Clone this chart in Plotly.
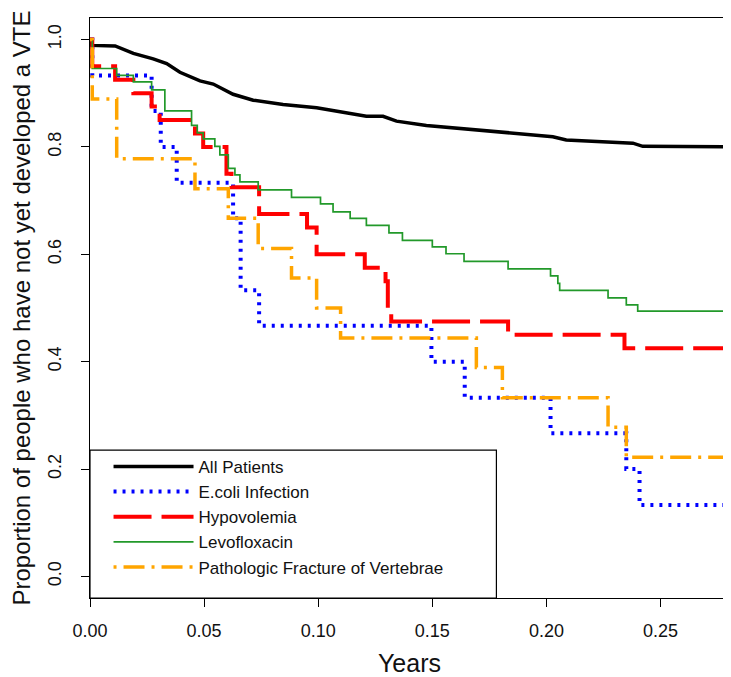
import plotly.graph_objects as go

# Kaplan-Meier style curves: time (years) and proportion without VTE
all_t = [0, 0.0005, 0.011, 0.019, 0.0277, 0.0336, 0.0394, 0.0482, 0.054, 0.0627, 0.0715, 0.0846,
         0.0993, 0.1065, 0.1211, 0.1284, 0.1343, 0.1474, 0.1693, 0.1839, 0.2028, 0.2087, 0.2379,
         0.2422, 0.28]
all_s = [1.0, 0.989, 0.988, 0.974, 0.964, 0.955, 0.939, 0.923, 0.917, 0.898, 0.887, 0.879,
         0.873, 0.868, 0.857, 0.857, 0.848, 0.840, 0.832, 0.826, 0.819, 0.813, 0.807,
         0.801, 0.800]

ecoli_t = [0, 0.001, 0.027, 0.031, 0.038, 0.0627, 0.066, 0.0741, 0.1496, 0.1642, 0.2018, 0.235, 0.2408, 0.28]
ecoli_s = [1.0, 0.933, 0.867, 0.8, 0.733, 0.667, 0.533, 0.467, 0.4, 0.333, 0.267, 0.2, 0.133, 0.133]

hypo_t = [0, 0.001, 0.011, 0.019, 0.027, 0.0305, 0.046, 0.0496, 0.0598, 0.062, 0.0741, 0.0951,
          0.0993, 0.1204, 0.1295, 0.1305, 0.132, 0.1832, 0.2342, 0.28]
hypo_s = [1.0, 0.95, 0.925, 0.9, 0.875, 0.85, 0.825, 0.8, 0.75, 0.725, 0.675, 0.65,
          0.6, 0.575, 0.55, 0.5, 0.475, 0.45, 0.425, 0.425]

levo_t = [0, 0.001, 0.0117, 0.019, 0.027, 0.0328, 0.0445, 0.047, 0.0496, 0.0547, 0.0569, 0.0606,
          0.0635, 0.0657, 0.0737, 0.0883, 0.101, 0.1065, 0.114, 0.1211, 0.131, 0.1369, 0.150,
          0.156, 0.1639, 0.1832, 0.2018, 0.205, 0.2058, 0.227, 0.235, 0.240, 0.28]
levo_s = [1.0, 0.946, 0.933, 0.921, 0.906, 0.867, 0.840, 0.826, 0.815, 0.801, 0.785, 0.760,
          0.748, 0.735, 0.720, 0.706, 0.694, 0.679, 0.667, 0.654, 0.640, 0.626, 0.614,
          0.601, 0.587, 0.573, 0.560, 0.546, 0.533, 0.519, 0.506, 0.494, 0.494]

frac_t = [0, 0.001, 0.0117, 0.046, 0.0606, 0.0737, 0.0883, 0.0993, 0.1098, 0.1693, 0.1807, 0.227, 0.235, 0.28]
frac_s = [1.0, 0.889, 0.778, 0.722, 0.667, 0.611, 0.556, 0.5, 0.444, 0.389, 0.333, 0.278, 0.222, 0.222]

FONT = "Liberation Sans, Arial, Helvetica, sans-serif"

fig = go.Figure()
fig.add_trace(go.Scatter(x=all_t, y=all_s, mode="lines", name="All Patients",
                         line=dict(color="black", width=3.5)))
fig.add_trace(go.Scatter(x=ecoli_t, y=ecoli_s, mode="lines", name="E.coli Infection",
                         line=dict(color="#0000ff", width=4, dash="3px,6px", shape="hv")))
fig.add_trace(go.Scatter(x=hypo_t, y=hypo_s, mode="lines", name="Hypovolemia",
                         line=dict(color="#ff0000", width=4, dash="38px,10px", shape="hv")))
fig.add_trace(go.Scatter(x=levo_t, y=levo_s, mode="lines", name="Levofloxacin",
                         line=dict(color="#22992a", width=1.7, shape="hv")))
fig.add_trace(go.Scatter(x=frac_t, y=frac_s, mode="lines", name="Pathologic Fracture of Vertebrae",
                         line=dict(color="#ffa500", width=3.5, dash="3px,7px,21px,7px", shape="hv")))

axis_common = dict(
    showline=True, linecolor="black", linewidth=1.2, mirror=True,
    ticks="outside", ticklen=8, tickcolor="black", tickwidth=1,
    showgrid=False, zeroline=False, automargin=False,
    tickfont=dict(size=18, color="#111", family=FONT),
)
fig.update_xaxes(range=[0, 0.28], tick0=0, dtick=0.05, tickformat=".2f",
                 title=dict(text="Years", font=dict(size=25, family=FONT, color="#111"), standoff=26),
                 ticklabelstandoff=8, **axis_common)
fig.update_yaxes(range=[-0.04, 1.04], tick0=0, dtick=0.2, tickformat=".1f", tickangle=-90,
                 title=dict(text="Proportion of people who have not yet developed a VTE",
                            font=dict(size=24, family=FONT, color="#111"), standoff=23),
                 ticklabelstandoff=13, **axis_common)

# legend frame, R style
fig.add_shape(type="rect", xref="paper", yref="paper", x0=0, y0=0, x1=0.636, y1=0.255,
              line=dict(color="black", width=1.2))

# the page body adds an 8px margin, so the figure is 8px smaller than the window
fig.update_layout(
    width=723, height=669,
    margin=dict(l=82, r=2, t=10, b=79),
    plot_bgcolor="white", paper_bgcolor="white",
    font=dict(family=FONT, color="#111"),
    legend=dict(x=0.029, y=0.257, xanchor="left", yanchor="top",
                bgcolor="rgba(0,0,0,0)", font=dict(size=17, family=FONT, color="#111"),
                itemwidth=80, tracegroupgap=0),
)

fig.write_html("out.html")
